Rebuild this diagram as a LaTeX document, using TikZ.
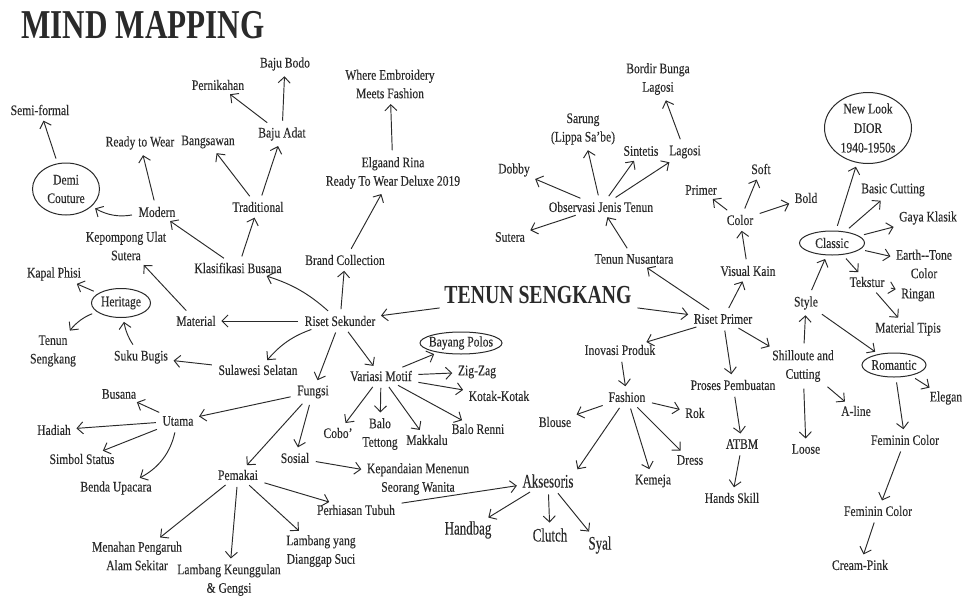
\documentclass[tikz,border=0pt]{standalone}
\usepackage{fontspec}
\setmainfont{Liberation Serif}[FakeStretch=0.8, FakeBold=0.25]
\newfontfamily\tallfont{Liberation Serif}[FakeStretch=0.68, FakeBold=0.25]
\newfontfamily\titlefont{Liberation Serif}[FakeStretch=0.76]
\usetikzlibrary{arrows.meta,shapes.geometric}
\definecolor{ink}{HTML}{2A2A2A}
\tikzset{
  lbl/.style={font=\fontsize{14.5}{18.5}\selectfont, text=ink, align=center, inner sep=1.5pt},
  big/.style={font=\tallfont\fontsize{19}{20}\selectfont, text=ink, inner sep=1.5pt},
  ell/.style={draw=ink, ellipse, line width=1pt, inner sep=0pt},
  arr/.style={-{Straight Barb[length=6pt,width=12pt]}, draw=ink, line width=0.95pt, shorten >=4pt, shorten <=5pt}
}
\begin{document}
\begin{tikzpicture}[x=1pt,y=-1pt]
\useasboundingbox (0,0) rectangle (965,597);
% titles
\node[text=ink, font=\titlefont\bfseries\fontsize{41}{44}\selectfont] (title) at (143,25) {MIND MAPPING};
\node[text=ink, font=\titlefont\bfseries\fontsize{26}{28}\selectfont] (ts) at (538,295) {TENUN SENGKANG};

% left side
\node[lbl] (rs) at (340,321) {Riset Sekunder};
\node[lbl] (bc) at (345,260) {Brand Collection};
\node[lbl] (el) at (393,173) {Elgaand Rina\\Ready To Wear Deluxe 2019};
\node[lbl] (we) at (390,84) {Where Embroidery\\Meets Fashion};
\node[lbl] (kb) at (238,268) {Klasifikasi Busana};
\node[lbl] (tr) at (258,207) {Traditional};
\node[lbl] (bg) at (208,142) {Bangsawan};
\node[lbl] (ba) at (282,134) {Baju Adat};
\node[lbl] (pn) at (218,85) {Pernikahan};
\node[lbl] (bb) at (285,64) {Baju Bodo};
\node[lbl] (md) at (157,212) {Modern};
\node[lbl] (rw) at (140,143) {Ready to Wear};
\node[ell, minimum width=67pt, minimum height=52pt, label={[lbl]center:Demi\\Couture}] (dc) at (66,189) {};
\node[lbl] (sf) at (40,110) {Semi-formal};
\node[lbl] (ku) at (126,246) {Kepompong Ulat\\Sutera};
\node[lbl] (mt) at (196,321) {Material};
\node[ell, minimum width=59pt, minimum height=29pt, label={[lbl]center:Heritage}] (he) at (121,303) {};
\node[lbl] (kp) at (54,274) {Kapal Phisi};
\node[lbl] (tsk) at (53,351) {Tenun\\Sengkang};
\node[lbl] (sb) at (141,357) {Suku Bugis};
\node[lbl] (ss) at (258,370) {Sulawesi Selatan};
\node[lbl] (fu) at (313,392) {Fungsi};
\node[lbl] (bu) at (119,394) {Busana};
\node[lbl] (ut) at (178,421) {Utama};
\node[lbl] (ha) at (54,430) {Hadiah};
\node[lbl] (st) at (82,459) {Simbol Status};
\node[lbl] (be) at (116,488) {Benda Upacara};
\node[lbl] (pe) at (238,475) {Pemakai};
\node[lbl] (so) at (295,458) {Sosial};
\node[lbl] (mp) at (137,556) {Menahan Pengaruh\\Alam Sekitar};
\node[lbl] (lk) at (229,580) {Lambang Keunggulan\\\& Gengsi};
\node[lbl] (ly) at (321,551) {Lambang yang\\Dianggap Suci};
\node[lbl] (ph) at (356,510) {Perhiasan Tubuh};
\node[lbl] (kmw) at (418,479) {Kepandaian Menenun\\Seorang Wanita};
\node[lbl] (vm) at (381,376) {Variasi Motif};
\node[ell, minimum width=82pt, minimum height=22pt, label={[lbl]center:Bayang Polos}] (bp) at (461,343) {};
\node[lbl] (zz) at (477,372) {Zig-Zag};
\node[lbl] (kk) at (499,396) {Kotak-Kotak};
\node[lbl] (br) at (478,429) {Balo Renni};
\node[lbl] (mk) at (427,440) {Makkalu};
\node[lbl] (bt) at (380,434) {Balo\\Tettong};
\node[lbl] (cb) at (338,433) {Cobo'};

% right side
\node[lbl] (rp) at (723,319) {Riset Primer};
\node[lbl] (tn) at (634,259) {Tenun Nusantara};
\node[lbl] (ob) at (601,207) {Observasi Jenis Tenun};
\node[lbl] (db) at (514,170) {Dobby};
\node[lbl] (sr) at (583,129) {Sarung\\(Lippa Sa'be)};
\node[lbl] (si) at (641,151) {Sintetis};
\node[lbl] (lg) at (685,152) {Lagosi};
\node[lbl] (bl) at (658,79) {Bordir Bunga\\Lagosi};
\node[lbl] (su) at (510,237) {Sutera};
\node[lbl] (ip) at (620,350) {Inovasi Produk};
\node[lbl] (fa) at (627,397) {Fashion};
\node[lbl] (blo) at (555,422) {Blouse};
\node[lbl] (rk) at (695,413) {Rok};
\node[lbl] (dr) at (690,460) {Dress};
\node[lbl] (ke) at (653,481) {Kemeja};
\node[big] (ak) at (548,481) {Aksesoris};
\node[big] (hb) at (468,530) {Handbag};
\node[big] (cl) at (550,535) {Clutch};
\node[big] (sy) at (600,545) {Syal};
\node[lbl] (pp) at (733,385) {Proses Pembuatan};
\node[lbl] (at) at (742,444) {ATBM};
\node[lbl] (hs) at (732,498) {Hands Skill};
\node[lbl] (vk) at (748,271) {Visual Kain};
\node[lbl] (co) at (740,220) {Color};
\node[lbl] (pr) at (701,190) {Primer};
\node[lbl] (sft) at (761,169) {Soft};
\node[lbl] (bo) at (806,198) {Bold};
\node[lbl] (sc) at (803,366) {Shilloute and\\Cutting};
\node[lbl] (sty) at (806,303) {Style};
\node[lbl] (lo) at (806,449) {Loose};
\node[lbl] (al) at (856,411) {A-line};
\node[ell, minimum width=65pt, minimum height=24pt, label={[lbl]center:Classic}] (cls) at (832,243) {};
\node[ell, minimum width=87pt, minimum height=71pt, label={[lbl, font=\fontsize{14.5}{19.5}\selectfont]center:New Look\\DIOR\\1940-1950s}] (nl) at (868,128) {};
\node[lbl] (bcu) at (893,190) {Basic Cutting};
\node[lbl] (gk) at (928,218) {Gaya Klasik};
\node[lbl] (et) at (924,264) {Earth{-}{-}Tone\\Color};
\node[lbl] (tk) at (867,282) {Tekstur};
\node[lbl] (ri) at (918,295) {Ringan};
\node[lbl] (mti) at (908,329) {Material Tipis};
\node[ell, minimum width=64pt, minimum height=24pt, label={[lbl]center:Romantic}] (ro) at (894,365) {};
\node[lbl] (eg) at (946,398) {Elegan};
\node[lbl] (f1) at (905,440) {Feminin Color};
\node[lbl] (f2) at (878,511) {Feminin Color};
\node[lbl] (cp) at (860,565) {Cream-Pink};

% connectors left
\draw[arr] (ts) -- (rs);
\draw[arr] (ts) -- (rp);
\draw[arr] (rs) -- (bc);
\draw[arr] (bc) -- (el);
\draw[arr] (el) -- (we);
\draw[arr] (rs) to[bend right=12] (kb);
\draw[arr] (rs) -- (mt);
\draw[arr] (rs) to[bend right=15] (ss);
\draw[arr] (rs) -- (fu);
\draw[arr] (rs) -- (vm);
\draw[arr] (kb) -- (tr);
\draw[arr] (kb) -- (md);
\draw[arr] (tr) -- (bg);
\draw[arr] (tr) -- (ba);
\draw[arr] (ba) -- (pn);
\draw[arr] (ba) -- (bb);
\draw[arr] (md) -- (rw);
\draw[arr] (md) to[bend left=20] (dc);
\draw[arr] (dc) -- (sf);
\draw[arr] (mt) -- (ku);
\draw[arr] (he) -- (kp);
\draw[arr] (he) to[bend right=15] (tsk);
\draw[arr] (sb) to[bend left=12] (he);
\draw[arr] (ss) -- (sb);
\draw[arr] (fu) -- (ut);
\draw[arr] (fu) -- (pe);
\draw[arr] (fu) -- (so);
\draw[arr] (ut) -- (bu);
\draw[arr] (ut) -- (ha);
\draw[arr] (ut) -- (st);
\draw[arr] (ut) to[bend left=25] (be);
\draw[arr] (pe) -- (mp);
\draw[arr] (pe) -- (lk);
\draw[arr] (pe) -- (ly);
\draw[arr] (pe) -- (ph);
\draw[arr] (so) -- (kmw);
\draw[arr] (ph) -- (ak);
\draw[arr] (vm) -- (bp);
\draw[arr] (vm) -- (zz);
\draw[arr] (vm) -- (kk);
\draw[arr] (vm) -- (br);
\draw[arr] (vm) -- (mk);
\draw[arr] (vm) -- (bt);
\draw[arr] (vm) -- (cb);

% connectors right
\draw[arr] (rp) -- (tn);
\draw[arr] (rp) -- (vk);
\draw[arr] (rp) -- (ip);
\draw[arr] (rp) -- (pp);
\draw[arr] (rp) -- (sc);
\draw[arr] (tn) -- (ob);
\draw[arr] (ob) -- (db);
\draw[arr] (ob) -- (sr);
\draw[arr] (ob) -- (si);
\draw[arr] (ob) -- (lg);
\draw[arr] (ob) -- (su);
\draw[arr] (lg) -- (bl);
\draw[arr] (ip) -- (fa);
\draw[arr] (fa) -- (blo);
\draw[arr] (fa) -- (rk);
\draw[arr] (fa) -- (dr);
\draw[arr] (fa) -- (ke);
\draw[arr] (fa) -- (ak.north east);
\draw[arr] (ak) -- (hb);
\draw[arr] (ak) -- (cl);
\draw[arr] (ak) -- (sy);
\draw[arr] (pp) -- (at);
\draw[arr] (at) -- (hs);
\draw[arr] (vk) -- (co);
\draw[arr] (co) -- (pr);
\draw[arr] (co) -- (sft);
\draw[arr] (co) -- (bo);
\draw[arr] (sc) -- (sty);
\draw[arr] (sc) -- (lo);
\draw[arr] (sc) -- (al);
\draw[arr] (sty) -- (cls);
\draw[arr] (sty) -- (ro);
\draw[arr] (cls) -- (nl);
\draw[arr] (cls) -- (bcu);
\draw[arr] (cls) -- (gk);
\draw[arr] (cls) -- (et);
\draw[arr] (cls) -- (tk);
\draw[arr] (tk) -- (ri);
\draw[arr] (tk) -- (mti);
\draw[arr] (ro) -- (eg);
\draw[arr] (ro) -- (f1);
\draw[arr] (f1) -- (f2);
\draw[arr] (f2) -- (cp);
\end{tikzpicture}
\end{document}
